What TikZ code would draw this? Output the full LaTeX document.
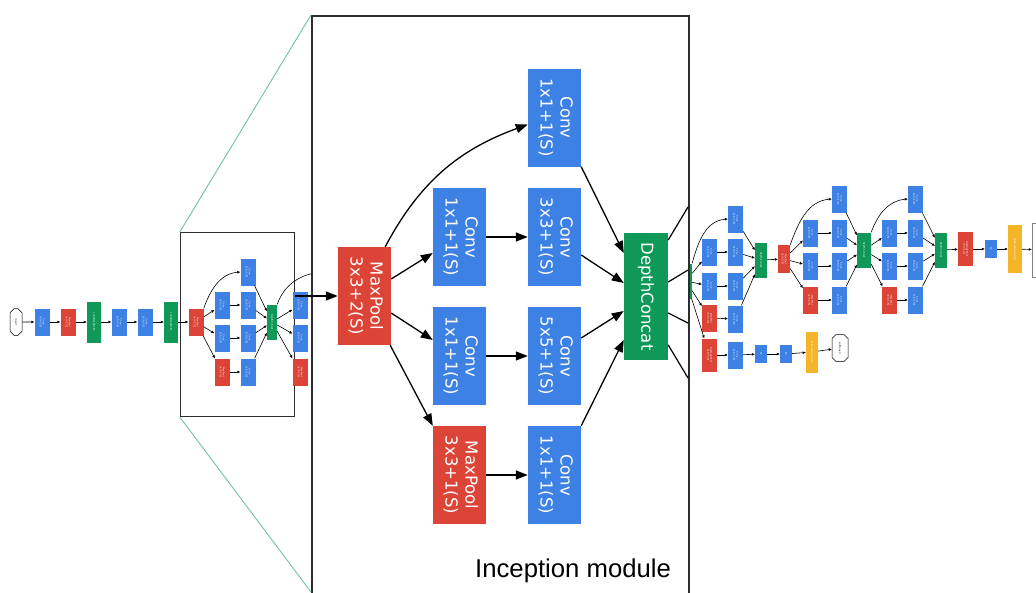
\documentclass[tikz,border=0pt]{standalone}
\usepackage{fontspec}
\setmainfont{DejaVu Sans}
\newfontfamily\arialf{Liberation Sans}
\usetikzlibrary{arrows.meta,shapes.misc}
\definecolor{gblue}{RGB}{61,129,228}
\definecolor{gred}{RGB}{219,68,55}
\definecolor{ggreen}{RGB}{15,152,88}
\definecolor{gyellow}{RGB}{244,182,40}
\definecolor{tealline}{RGB}{112,190,176}
\definecolor{boxgray}{RGB}{45,45,45}
\newcommand{\twol}[2]{\rotatebox{-90}{\begin{tabular}{@{}c@{}}#1\\#2\end{tabular}}}
\newcommand{\onel}[1]{\rotatebox{-90}{#1}}
\tikzset{
  bn/.style={inner sep=0pt, text=white, font=\fontsize{16.5}{20}\selectfont},
  bconv/.style={bn, fill=gblue, minimum width=53pt, minimum height=98pt},
  bpool/.style={bn, fill=gred, minimum width=53pt, minimum height=98pt},
  bcat/.style={bn, fill=ggreen, minimum width=44pt, minimum height=127pt},
  barr/.style={line width=1.3pt, -{Triangle[length=12pt,width=9pt]}},
  sn/.style={inner sep=0pt, text=white, font=\fontsize{2.4}{2.9}\selectfont},
  sconv/.style={sn, fill=gblue, minimum width=15pt, minimum height=27pt},
  spool/.style={sn, fill=gred, minimum width=15pt, minimum height=27pt},
  slrn/.style={sn, fill=ggreen, minimum width=14pt, minimum height=41pt},
  scat/.style={sn, fill=ggreen, minimum width=12pt, minimum height=35pt},
  sfc/.style={sn, fill=gblue, minimum width=12pt, minimum height=18pt},
  ssoft/.style={sn, fill=gyellow, minimum width=12pt, minimum height=41pt},
  soct/.style={chamfered rectangle, chamfered rectangle xsep=3pt, chamfered rectangle ysep=5pt,
    draw=black, line width=0.5pt, inner sep=0pt, font=\fontsize{2.4}{2.9}\selectfont,
    minimum width=12pt, minimum height=27pt},
  sarr/.style={line width=0.6pt, -{Triangle[length=3pt,width=2.4pt]}},
}
\begin{document}
\begin{tikzpicture}[x=1pt,y=-1pt]
\useasboundingbox (0,0) rectangle (1036,592);
\clip (0,0) rectangle (1036,592);
\fill[white] (0,0) rectangle (1036,592);

% ---------- left part of the small network ----------
\node[soct] (in) at (16,322) {\onel{input}};
\node[sconv] (c1) at (42,322) {\twol{Conv}{7x7+2(S)}};
\node[spool] (p1) at (68,322) {\twol{MaxPool}{3x3+2(S)}};
\node[slrn] (n1) at (94,322) {\onel{LocalRespNorm}};
\node[sconv] (c2) at (119,322) {\twol{Conv}{1x1+1(V)}};
\node[sconv] (c3) at (145,322) {\twol{Conv}{3x3+1(S)}};
\node[slrn] (n2) at (171,322) {\onel{LocalRespNorm}};
\node[draw=boxgray, line width=1.3pt, minimum width=114pt, minimum height=184pt, inner sep=0pt] (sbox) at (237.5,324.5) {};
\node[spool] (p2) at (196,322) {\twol{MaxPool}{3x3+2(S)}};
\node[sconv] (a1) at (222,305) {\twol{Conv}{1x1+1(S)}};
\node[sconv] (a2) at (222,338) {\twol{Conv}{1x1+1(S)}};
\node[spool] (a3) at (222,372) {\twol{MaxPool}{3x3+1(S)}};
\node[sconv] (b0) at (248,272) {\twol{Conv}{1x1+1(S)}};
\node[sconv] (b1) at (248,305) {\twol{Conv}{3x3+1(S)}};
\node[sconv] (b2) at (248,338) {\twol{Conv}{5x5+1(S)}};
\node[sconv] (b3) at (248,372) {\twol{Conv}{1x1+1(S)}};
\node[scat, minimum width=10pt] (d3a) at (272,322) {\onel{DepthConcat}};
\node[sconv] (e1) at (300,305) {\twol{Conv}{1x1+1(S)}};
\node[sconv] (e2) at (300,338) {\twol{Conv}{1x1+1(S)}};
\node[spool] (e3) at (300,372) {\twol{MaxPool}{3x3+1(S)}};
\coordinate (h0) at (322,272);

\draw[sarr] (in) -- (c1);
\draw[sarr] (c1) -- (p1);
\draw[sarr] (p1) -- (n1);
\draw[sarr] (n1) -- (c2);
\draw[sarr] (c2) -- (c3);
\draw[sarr] (c3) -- (n2);
\draw[sarr] (n2) -- (p2);
\draw[sarr] (p2) -- (a1);
\draw[sarr] (p2) -- (a2);
\draw[sarr] (p2) -- (a3);
\draw[sarr] (p2.north east) to[out=70,in=185] (b0.west);
\draw[sarr] (a1) -- (b1);
\draw[sarr] (a2) -- (b2);
\draw[sarr] (a3) -- (b3);
\draw[sarr] (b0) -- (d3a);
\draw[sarr] (b1) -- (d3a);
\draw[sarr] (b2) -- (d3a);
\draw[sarr] (b3) -- (d3a);
\draw[sarr] (d3a) -- (e1);
\draw[sarr] (d3a) -- (e2);
\draw[sarr] (d3a) -- (e3);
\draw[line width=0.6pt] (d3a.north east) to[out=70,in=185] (h0);

% ---------- right part of the small network ----------
\node[scat] (D4a) at (686,281) {\onel{DepthConcat}};
\node[sconv] (f1) at (709.5,252) {\twol{Conv}{1x1+1(S)}};
\node[sconv] (f2) at (709.5,286) {\twol{Conv}{1x1+1(S)}};
\node[spool] (f3) at (709.5,318) {\twol{MaxPool}{3x3+1(S)}};
\node[spool, minimum height=33pt] (ap0) at (709.5,355) {\twol{AveragePool}{5x5+3(V)}};
\node[sconv] (g0) at (735.5,219) {\twol{Conv}{1x1+1(S)}};
\node[sconv] (g1) at (735.5,252) {\twol{Conv}{3x3+1(S)}};
\node[sconv] (g2) at (735.5,286) {\twol{Conv}{5x5+1(S)}};
\node[sconv] (g3) at (735.5,319) {\twol{Conv}{1x1+1(S)}};
\node[sconv] (ac) at (735.5,355) {\twol{Conv}{1x1+1(S)}};
\node[scat] (D4b) at (761,260) {\onel{DepthConcat}};
\node[sfc] (fc0) at (761,354) {\onel{FC}};
\node[sfc] (fc1) at (786,354) {\onel{FC}};
\node[ssoft] (sm0) at (812,352) {\onel{SoftmaxActivation}};
\node[soct, minimum width=16pt] (o0) at (840,348) {\onel{softmax0}};
\node[spool, minimum width=12pt, minimum height=28pt] (mp) at (784,259) {\twol{MaxPool}{3x3+2(S)}};
\node[sconv] (h1) at (810.5,233) {\twol{Conv}{1x1+1(S)}};
\node[sconv] (h2) at (810.5,266) {\twol{Conv}{1x1+1(S)}};
\node[spool] (h3) at (810.5,300) {\twol{MaxPool}{3x3+1(S)}};
\node[sconv] (k0) at (839.5,199) {\twol{Conv}{1x1+1(S)}};
\node[sconv] (k1) at (839.5,233) {\twol{Conv}{3x3+1(S)}};
\node[sconv] (k2) at (839.5,266) {\twol{Conv}{5x5+1(S)}};
\node[sconv] (k3) at (839.5,300) {\twol{Conv}{1x1+1(S)}};
\node[scat, minimum width=14pt] (D4c) at (864,250) {\onel{DepthConcat}};
\node[sconv] (l1) at (889.5,233) {\twol{Conv}{1x1+1(S)}};
\node[sconv] (l2) at (889.5,266) {\twol{Conv}{1x1+1(S)}};
\node[spool] (l3) at (889.5,300) {\twol{MaxPool}{3x3+1(S)}};
\node[sconv] (m0) at (915.5,199) {\twol{Conv}{1x1+1(S)}};
\node[sconv] (m1) at (915.5,233) {\twol{Conv}{3x3+1(S)}};
\node[sconv] (m2) at (915.5,266) {\twol{Conv}{5x5+1(S)}};
\node[sconv] (m3) at (915.5,300) {\twol{Conv}{1x1+1(S)}};
\node[scat] (D4d) at (941,250) {\onel{DepthConcat}};
\node[spool, minimum height=34pt] (ap2) at (965.5,249) {\twol{AveragePool}{7x7+1(V)}};
\node[sfc] (fc2) at (991,249) {\onel{FC}};
\node[ssoft, minimum width=14pt, minimum height=48pt] (sm2) at (1015,249) {\onel{SoftmaxActivation}};
\node[soct, draw=gray, minimum width=36pt, minimum height=54pt, chamfered rectangle xsep=8pt, chamfered rectangle ysep=10pt] (o2) at (1050,250) {};

\draw[sarr] (D4a) -- (f1);
\draw[sarr] (D4a) -- (f2);
\draw[sarr] (D4a) -- (f3);
\draw[sarr] (D4a) -- (ap0);
\draw[sarr] (D4a.north east) to[out=75,in=185] (g0.west);
\draw[sarr] (f1) -- (g1);
\draw[sarr] (f2) -- (g2);
\draw[sarr] (f3) -- (g3);
\draw[sarr] (ap0) -- (ac);
\draw[sarr] (ac) -- (fc0);
\draw[sarr] (fc0) -- (fc1);
\draw[sarr] (fc1) -- (sm0);
\draw[sarr] (sm0) -- (o0);
\draw[sarr] (g0) -- (D4b);
\draw[sarr] (g1) -- (D4b);
\draw[sarr] (g2) -- (D4b);
\draw[sarr] (g3) -- (D4b);
\draw[sarr] (D4b) -- (mp);
\draw[sarr] (mp) -- (h1);
\draw[sarr] (mp) -- (h2);
\draw[sarr] (mp) -- (h3);
\draw[sarr] (mp.north east) to[out=70,in=185] (k0.west);
\draw[sarr] (h1) -- (k1);
\draw[sarr] (h2) -- (k2);
\draw[sarr] (h3) -- (k3);
\draw[sarr] (k0) -- (D4c);
\draw[sarr] (k1) -- (D4c);
\draw[sarr] (k2) -- (D4c);
\draw[sarr] (k3) -- (D4c);
\draw[sarr] (D4c) -- (l1);
\draw[sarr] (D4c) -- (l2);
\draw[sarr] (D4c) -- (l3);
\draw[sarr] (D4c.north east) to[out=70,in=185] (m0.west);
\draw[sarr] (l1) -- (m1);
\draw[sarr] (l2) -- (m2);
\draw[sarr] (l3) -- (m3);
\draw[sarr] (m0) -- (D4d);
\draw[sarr] (m1) -- (D4d);
\draw[sarr] (m2) -- (D4d);
\draw[sarr] (m3) -- (D4d);
\draw[sarr] (D4d) -- (ap2);
\draw[sarr] (ap2) -- (fc2);
\draw[sarr] (fc2) -- (sm2);
\draw[sarr] (sm2) -- (o2);

% ---------- enlarged inception module ----------
\node[draw=boxgray, line width=1.8pt, fill=white, anchor=north west, minimum width=377pt, minimum height=590pt, inner sep=0pt] (bigbox) at (311,15) {};
\coordinate (blc) at (311,592);
\draw[tealline, line width=0.9pt] (sbox.north west) -- (bigbox.north west);
\draw[tealline, line width=0.9pt] (sbox.south west) -- (blc);

\node[bpool] (BP) at (364.5,296) {\twol{MaxPool}{3x3+2(S)}};
\node[bconv] (A1) at (459.5,237) {\twol{Conv}{1x1+1(S)}};
\node[bconv] (A2) at (459.5,356) {\twol{Conv}{1x1+1(S)}};
\node[bpool] (A3) at (459.5,475) {\twol{MaxPool}{3x3+1(S)}};
\node[bconv] (B0) at (554.5,117.5) {\twol{Conv}{1x1+1(S)}};
\node[bconv] (B1) at (554.5,237) {\twol{Conv}{3x3+1(S)}};
\node[bconv] (B2) at (554.5,356) {\twol{Conv}{5x5+1(S)}};
\node[bconv] (B3) at (554.5,475) {\twol{Conv}{1x1+1(S)}};
\node[bcat] (DC) at (646,296.5) {\onel{DepthConcat}};

\draw[barr] (sbox.east |- BP.west) -- (BP.west);
\draw[barr] ([xshift=-6pt]BP.north east) to[out=62,in=200] ([yshift=-7pt]B0.west);
\draw[barr] ([yshift=17pt]BP.east) -- ([yshift=-16pt]A1.west);
\draw[barr] ([yshift=-17pt]BP.east) -- ([yshift=16pt]A2.west);
\draw[barr] ([xshift=-1pt]BP.south east) -- (A3.north west);
\draw[barr] (A1) -- (B1);
\draw[barr] (A2) -- (B2);
\draw[barr] (A3) -- (B3);
\draw[barr] (B0.south east) -- ([yshift=43.5pt]DC.west);
\draw[barr] ([yshift=-18pt]B1.east) -- ([yshift=13.5pt]DC.west);
\draw[barr] ([yshift=18pt]B2.east) -- ([yshift=-14.5pt]DC.west);
\draw[barr] (B3.north east) -- ([yshift=-43.5pt]DC.west);

\coordinate (q1) at (688,207);
\coordinate (q2) at (688,270);
\coordinate (q3) at (688,323);
\coordinate (q4) at (688,378);
\draw[line width=1.2pt] ([yshift=56.5pt]DC.east) -- (q1);
\draw[line width=1.2pt] ([yshift=14.5pt]DC.east) -- (q2);
\draw[line width=1.2pt] ([yshift=-16.5pt]DC.east) -- (q3);
\draw[line width=1.2pt] ([yshift=-48.5pt]DC.east) -- (q4);

\node[anchor=base west, inner sep=0pt, font=\arialf\fontsize{25.7}{30}\selectfont] (title) at (475,577) {Inception module};
\end{tikzpicture}
\end{document}
